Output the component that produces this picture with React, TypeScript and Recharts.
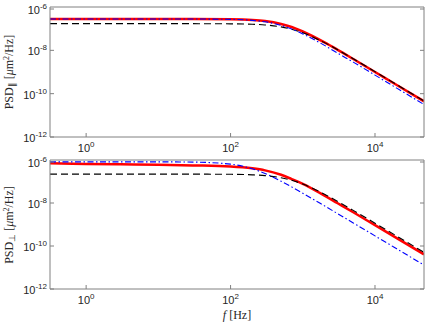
import { LineChart, Line, XAxis, YAxis } from "recharts";

// frequencies [Hz] and PSD values
const freqs = [0.316, 1, 3, 10, 30, 100, 200, 300, 500, 700, 1000, 2000, 3000, 5000, 10000, 20000, 47700];
const parRed = [2.8e-7, 2.8e-7, 2.8e-7, 2.8e-7, 2.79e-7, 2.72e-7, 2.52e-7, 2.24e-7, 1.65e-7, 1.19e-7, 7.4e-8, 2.31e-8, 1.08e-8, 3.98e-9, 1.0e-9, 2.52e-10, 4.43e-11];
const parBlack = [1.7e-7, 1.7e-7, 1.7e-7, 1.7e-7, 1.7e-7, 1.67e-7, 1.6e-7, 1.48e-7, 1.21e-7, 9.47e-8, 6.49e-8, 2.27e-8, 1.09e-8, 4.09e-9, 1.04e-9, 2.61e-10, 4.6e-11];
const parBlue = [2.8e-7, 2.8e-7, 2.8e-7, 2.8e-7, 2.79e-7, 2.69e-7, 2.42e-7, 2.07e-7, 1.42e-7, 9.63e-8, 5.73e-8, 1.69e-8, 7.57e-9, 2.85e-9, 7.18e-10, 1.8e-10, 3.16e-11];
const perpRed = [7.0e-7, 6.6e-7, 6.3e-7, 6.0e-7, 5.6e-7, 5.0e-7, 4.1e-7, 3.3e-7, 2.05e-7, 1.3e-7, 7.8e-8, 2.2e-8, 1.0e-8, 3.7e-9, 9.3e-10, 2.33e-10, 4.1e-11];
const perpBlack = [2.2e-7, 2.2e-7, 2.2e-7, 2.2e-7, 2.2e-7, 2.16e-7, 2.04e-7, 1.88e-7, 1.49e-7, 1.14e-7, 7.59e-8, 2.56e-8, 1.22e-8, 4.55e-9, 1.15e-9, 2.89e-10, 5.1e-11];
const perpBlue = [8.2e-7, 8.2e-7, 8.2e-7, 8.2e-7, 8.0e-7, 6.42e-7, 3.89e-7, 2.35e-7, 1.03e-7, 5.63e-8, 2.86e-8, 7.33e-9, 3.28e-9, 1.18e-9, 2.96e-10, 7.4e-11, 1.3e-11];

const xTicks = [1, 100, 10000];
const xTickExps = ["0", "2", "4"];
const yTicks = [1e-12, 1e-10, 1e-8, 1e-6];
const yTickExps = ["-12", "-10", "-8", "-6"];

const axisGray = "#808080";
const textCol = "#262626";
const sans = "'Liberation Sans', Arial, sans-serif";
const serif = "'Liberation Serif', 'Times New Roman', serif";

const table = (red: number[], black: number[], blue: number[]) =>
  freqs.map((f, i) => ({ f, red: red[i], black: black[i], blue: blue[i] }));

function BottomTick({ x, y, index }: any) {
  return (
    <g>
      <line x1={x} y1={y} x2={x} y2={y - 4} stroke={axisGray} />
      <text x={x} y={y + 15} textAnchor="middle" fontSize={11} fill={textCol} fontFamily={sans}>
        10<tspan dy={-5} fontSize={8}>{xTickExps[index]}</tspan>
      </text>
    </g>
  );
}

function TopTick({ x, y }: any) {
  return <line x1={x} y1={y} x2={x} y2={y + 4} stroke={axisGray} />;
}

function LeftTick({ x, y, index }: any) {
  return (
    <g>
      <line x1={x} y1={y} x2={x + 4} y2={y} stroke={axisGray} />
      <text x={x - 3} y={y + 5} textAnchor="end" fontSize={11} fill={textCol} fontFamily={sans}>
        10<tspan dy={-5} fontSize={8}>{yTickExps[index]}</tspan>
      </text>
    </g>
  );
}

function RightTick({ x, y }: any) {
  return <line x1={x} y1={y} x2={x - 4} y2={y} stroke={axisGray} />;
}

function Panel({ data, top, height, bottomH }: { data: any[]; top: number; height: number; bottomH: number }) {
  const xDom = [0.316, 47700];
  const yDom = [1e-12, 1e-6];
  return (
    <div style={{ position: "absolute", left: 0, top }}>
      <LineChart width={425} height={height} data={data} margin={{ top: 6, right: 0, left: 0, bottom: 0 }}>
        <XAxis dataKey="f" type="number" scale="log" domain={xDom} allowDataOverflow ticks={xTicks}
          height={bottomH} tickSize={0} tickMargin={0} tickLine={false} stroke={axisGray} tick={<BottomTick />} />
        <XAxis xAxisId="t" orientation="top" type="number" scale="log" domain={xDom} allowDataOverflow ticks={xTicks}
          height={1} tickSize={0} tickMargin={0} tickLine={false} stroke={axisGray} tick={<TopTick />} />
        <YAxis type="number" scale="log" domain={yDom} allowDataOverflow ticks={yTicks} width={50}
          tickSize={0} tickMargin={0} tickLine={false} stroke={axisGray} tick={<LeftTick />} />
        <YAxis yAxisId="r" orientation="right" type="number" scale="log" domain={yDom} allowDataOverflow ticks={yTicks} width={1}
          tickSize={0} tickMargin={0} tickLine={false} stroke={axisGray} tick={<RightTick />} />
        <Line dataKey="red" type="monotone" stroke="#ff0000" strokeWidth={2.5} dot={false} isAnimationActive={false} />
        <Line dataKey="black" type="monotone" stroke="#000000" strokeWidth={1.1} strokeDasharray="7 4" dot={false} isAnimationActive={false} />
        <Line dataKey="blue" type="monotone" stroke="#0000ff" strokeWidth={1.1} strokeDasharray="6 2.5 1.5 2.5" dot={false} isAnimationActive={false} />
      </LineChart>
    </div>
  );
}

export default function App() {
  return (
    <div style={{ position: "absolute", left: 0, top: 0, width: 425, height: 324, background: "#fff" }}>
      <Panel data={table(parRed, parBlack, parBlue)} top={0} height={160} bottomH={23} />
      <Panel data={table(perpRed, perpBlack, perpBlue)} top={153} height={171} bottomH={35} />
      <svg width={425} height={324} style={{ position: "absolute", left: 0, top: 0, pointerEvents: "none" }}>
        <text transform="translate(13,72) rotate(-90)" textAnchor="middle" fontSize={12} fill={textCol} fontFamily={serif}>
          PSD<tspan dy={2} fontSize={9}>∥</tspan>
          <tspan dy={-2}> [</tspan><tspan fontStyle="italic">μ</tspan>m<tspan dy={-4} fontSize={8}>2</tspan>
          <tspan dy={4}>/Hz]</tspan>
        </text>
        <text transform="translate(13,225) rotate(-90)" textAnchor="middle" fontSize={12} fill={textCol} fontFamily={serif}>
          PSD<tspan dy={2} fontSize={9}>⊥</tspan>
          <tspan dy={-2}> [</tspan><tspan fontStyle="italic">μ</tspan>m<tspan dy={-4} fontSize={8}>2</tspan>
          <tspan dy={4}>/Hz]</tspan>
        </text>
        <text x={237} y={319} textAnchor="middle" fontSize={12} fill={textCol} fontFamily={serif}>
          <tspan fontStyle="italic">f</tspan> [Hz]
        </text>
      </svg>
    </div>
  );
}
